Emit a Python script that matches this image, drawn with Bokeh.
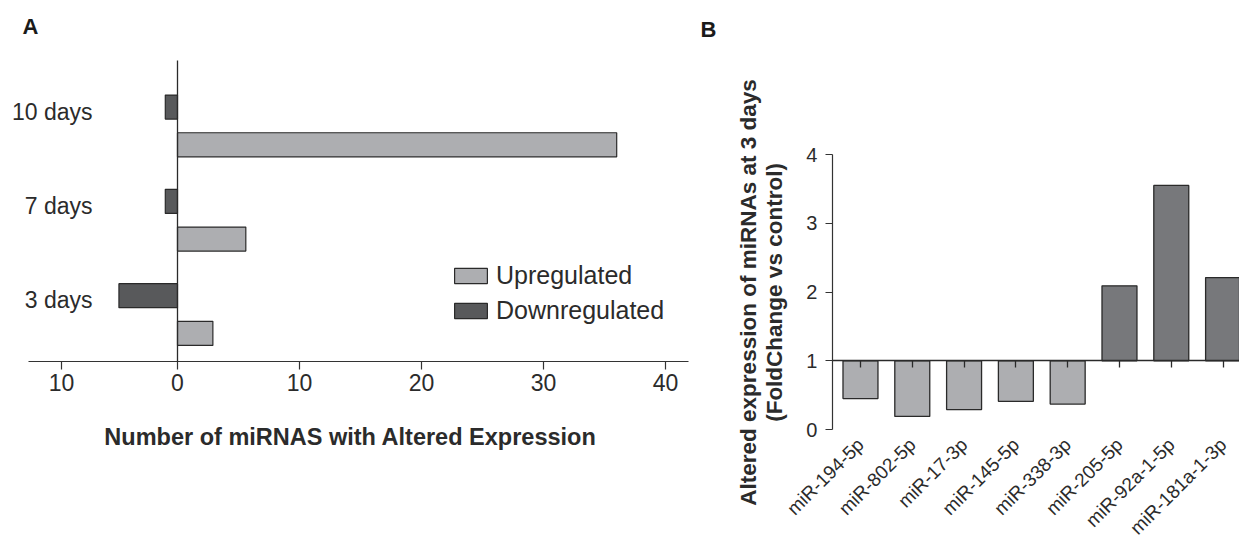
import math
from bokeh.plotting import figure
from bokeh.models import (Legend, LegendItem, FixedTicker, LinearAxis,
                          ColumnDataSource, Range1d)
from bokeh.layouts import row
from bokeh.embed import file_html
from bokeh.resources import INLINE
from bokeh.core.properties import value

# ---------------- Panel A data ----------------
days = ["3 days", "7 days", "10 days"]
upregulated = [2.9, 5.6, 36]
downregulated = [4.8, 1, 1]
a_tick_values = [-9.5, 0, 10, 20, 30, 40]
a_tick_labels = ["10", "0", "10", "20", "30", "40"]
a_xlabel = "Number of miRNAS with Altered Expression"
legend_labels = ["Upregulated", "Downregulated"]

# ---------------- Panel B data ----------------
mirnas = ["miR-194-5p", "miR-802-5p", "miR-17-3p", "miR-145-5p",
          "miR-338-3p", "miR-205-5p", "miR-92a-1-5p", "miR-181a-1-3p"]
fold_change = [0.45, 0.19, 0.29, 0.41, 0.37, 2.09, 3.55, 2.21]
b_tick_values = [0, 1, 2, 3, 4]
b_ylabel = ["Altered expression of miRNAs at 3 days", "(FoldChange vs control)"]

FONT = "Liberation Sans"
TXT = "#2b2b2b"
EDGE = "#2a2a2a"
AXC = "#333333"
LIGHT = "#adaeb1"
DARK_A = "#58595b"
DARK_B = "#77787b"

# ================= Panel A =================
A_X0, A_X1 = -14.508, 42.705        # full canvas
A_Y0, A_Y1 = -2.407, 3.33
A_AXIS_Y = -0.498                    # where the x axis sits
A_TOP = 2.693                        # top of vertical zero line
A_XB = (-12.213, 41.885)             # x axis line extent

pa = figure(width=698, height=541, x_range=Range1d(A_X0, A_X1),
            y_range=Range1d(A_Y0, A_Y1), output_backend="svg",
            toolbar_location=None, min_border=0, min_border_left=0,
            min_border_right=0, min_border_top=0, min_border_bottom=0)
pa.outline_line_color = None
pa.grid.visible = False

idx_a = list(range(len(days)))
src_a = ColumnDataSource(dict(
    y_up=[i - 0.2 for i in idx_a],
    y_down=[i + 0.2 for i in idx_a],
    up=upregulated,
    down=[-d for d in downregulated],
    zero=[0] * len(days),
))
r_up = pa.hbar(y="y_up", left="zero", right="up", height=0.255, source=src_a,
               fill_color=LIGHT, line_color=EDGE, line_width=1.2)
r_down = pa.hbar(y="y_down", left="down", right="zero", height=0.255, source=src_a,
                 fill_color=DARK_A, line_color=EDGE, line_width=1.2)

# category labels
lab_src = ColumnDataSource(dict(x=[-6.97] * len(days), y=[i + 0.15 for i in idx_a], t=days))
pa.text(x="x", y="y", text="t", source=lab_src, text_align="right",
        text_baseline="middle", text_font=value(FONT), text_font_size="23px",
        text_color=TXT)

# axis title
pa.text(x=[14.18], y=[-1.30], text=[a_xlabel], text_align="center",
        text_baseline="middle", text_font=value(FONT), text_font_size="23.5px",
        text_font_style="bold", text_color=TXT)

# panel letter
pa.text(x=[-12.7], y=[3.054], text=["A"], text_align="left", text_baseline="middle",
        text_font=value(FONT), text_font_size="22px", text_font_style="bold",
        text_color="#1a1a1a")

# vertical zero line (y axis placed at x = 0)
ya_a = pa.yaxis[0]
ya_a.fixed_location = 0
ya_a.bounds = (A_AXIS_Y, A_TOP)
ya_a.ticker = FixedTicker(ticks=[])
ya_a.minor_tick_line_color = None
ya_a.major_tick_line_color = None
ya_a.major_label_text_color = None
ya_a.axis_line_color = EDGE
ya_a.axis_line_width = 1.3

xa = pa.xaxis[0]
xa.fixed_location = A_AXIS_Y
xa.bounds = A_XB
xa.ticker = FixedTicker(ticks=a_tick_values)
xa.major_label_overrides = {v: l for v, l in zip(a_tick_values, a_tick_labels)}
xa.minor_tick_line_color = None
xa.major_tick_in = 0
xa.major_tick_out = 8
xa.axis_line_color = AXC
xa.major_tick_line_color = AXC
xa.axis_line_width = 1.2
xa.major_tick_line_width = 1.2
xa.major_label_text_font = FONT
xa.major_label_text_font_size = "23px"
xa.major_label_text_color = TXT
xa.major_label_standoff = 5

legend = Legend(items=[LegendItem(label=legend_labels[0], renderers=[r_up]),
                       LegendItem(label=legend_labels[1], renderers=[r_down])],
                location=(450, 216), glyph_width=41, glyph_height=19,
                label_height=20, spacing=6, padding=0, margin=0,
                label_standoff=5, border_line_color=None,
                background_fill_alpha=0, label_text_font=FONT,
                label_text_font_size="25px", label_text_color=TXT)
pa.add_layout(legend)

# ================= Panel B =================
B_X0, B_X1 = -3.127, 7.317
B_Y0, B_Y1 = -1.629, 6.24
B_AXIS_X = -0.5405

pb = figure(width=541, height=541, x_range=Range1d(B_X0, B_X1),
            y_range=Range1d(B_Y0, B_Y1), output_backend="svg",
            toolbar_location=None, min_border=0, min_border_left=0,
            min_border_right=0, min_border_top=0, min_border_bottom=0)
pb.outline_line_color = None
pb.grid.visible = False

idx_b = list(range(len(mirnas)))
src_b = ColumnDataSource(dict(
    x=idx_b, top=fold_change, base=[1] * len(mirnas),
    color=[LIGHT if v < 1 else DARK_B for v in fold_change],
))
pb.vbar(x="x", bottom="base", top="top", width=0.675, source=src_b,
        fill_color="color", line_color=EDGE, line_width=1.3)

# y axis
yb = pb.yaxis[0]
yb.fixed_location = B_AXIS_X
yb.bounds = (b_tick_values[0], b_tick_values[-1])
yb.ticker = FixedTicker(ticks=b_tick_values)
yb.minor_tick_line_color = None
yb.major_tick_in = 0
yb.major_tick_out = 7
yb.axis_line_color = AXC
yb.major_tick_line_color = AXC
yb.axis_line_width = 1.2
yb.major_tick_line_width = 1.2
yb.major_label_text_font = FONT
yb.major_label_text_font_size = "20px"
yb.major_label_text_color = TXT
yb.major_label_standoff = 8

# category labels axis at y = 0
xb = pb.xaxis[0]
xb.fixed_location = 0
xb.ticker = FixedTicker(ticks=idx_b)
xb.major_label_overrides = {i: n for i, n in zip(idx_b, mirnas)}
xb.major_label_orientation = math.pi / 4
xb.axis_line_color = None
xb.major_tick_line_color = None
xb.minor_tick_line_color = None
xb.major_label_text_font = FONT
xb.major_label_text_font_size = "19px"
xb.major_label_text_color = TXT
xb.major_label_standoff = 6

# baseline axis at fold change = 1
base_axis = LinearAxis(fixed_location=1, bounds=(B_AXIS_X, B_X1),
                       ticker=FixedTicker(ticks=idx_b))
base_axis.major_label_text_color = None
base_axis.minor_tick_line_color = None
base_axis.major_tick_in = 0
base_axis.major_tick_out = 7
base_axis.axis_line_color = EDGE
base_axis.axis_line_width = 1.5
base_axis.major_tick_line_color = EDGE
base_axis.major_tick_line_width = 1.3
pb.add_layout(base_axis, "below")

# y axis title (two lines)
yl_src = ColumnDataSource(dict(x=[-2.162, -1.66], y=[1.993, 1.993], t=b_ylabel))
pb.text(x="x", y="y", text="t", source=yl_src, angle=math.pi / 2,
        text_align="center", text_baseline="middle", text_font=value(FONT),
        text_font_size="22.5px", text_font_style="bold", text_color=TXT)

# panel letter
pb.text(x=[-3.089], y=[5.818], text=["B"], text_align="left", text_baseline="middle",
        text_font=value(FONT), text_font_size="22px", text_font_style="bold",
        text_color="#1a1a1a")

layout = row(pa, pb)
open("out.html", "w").write(file_html(layout, INLINE))
